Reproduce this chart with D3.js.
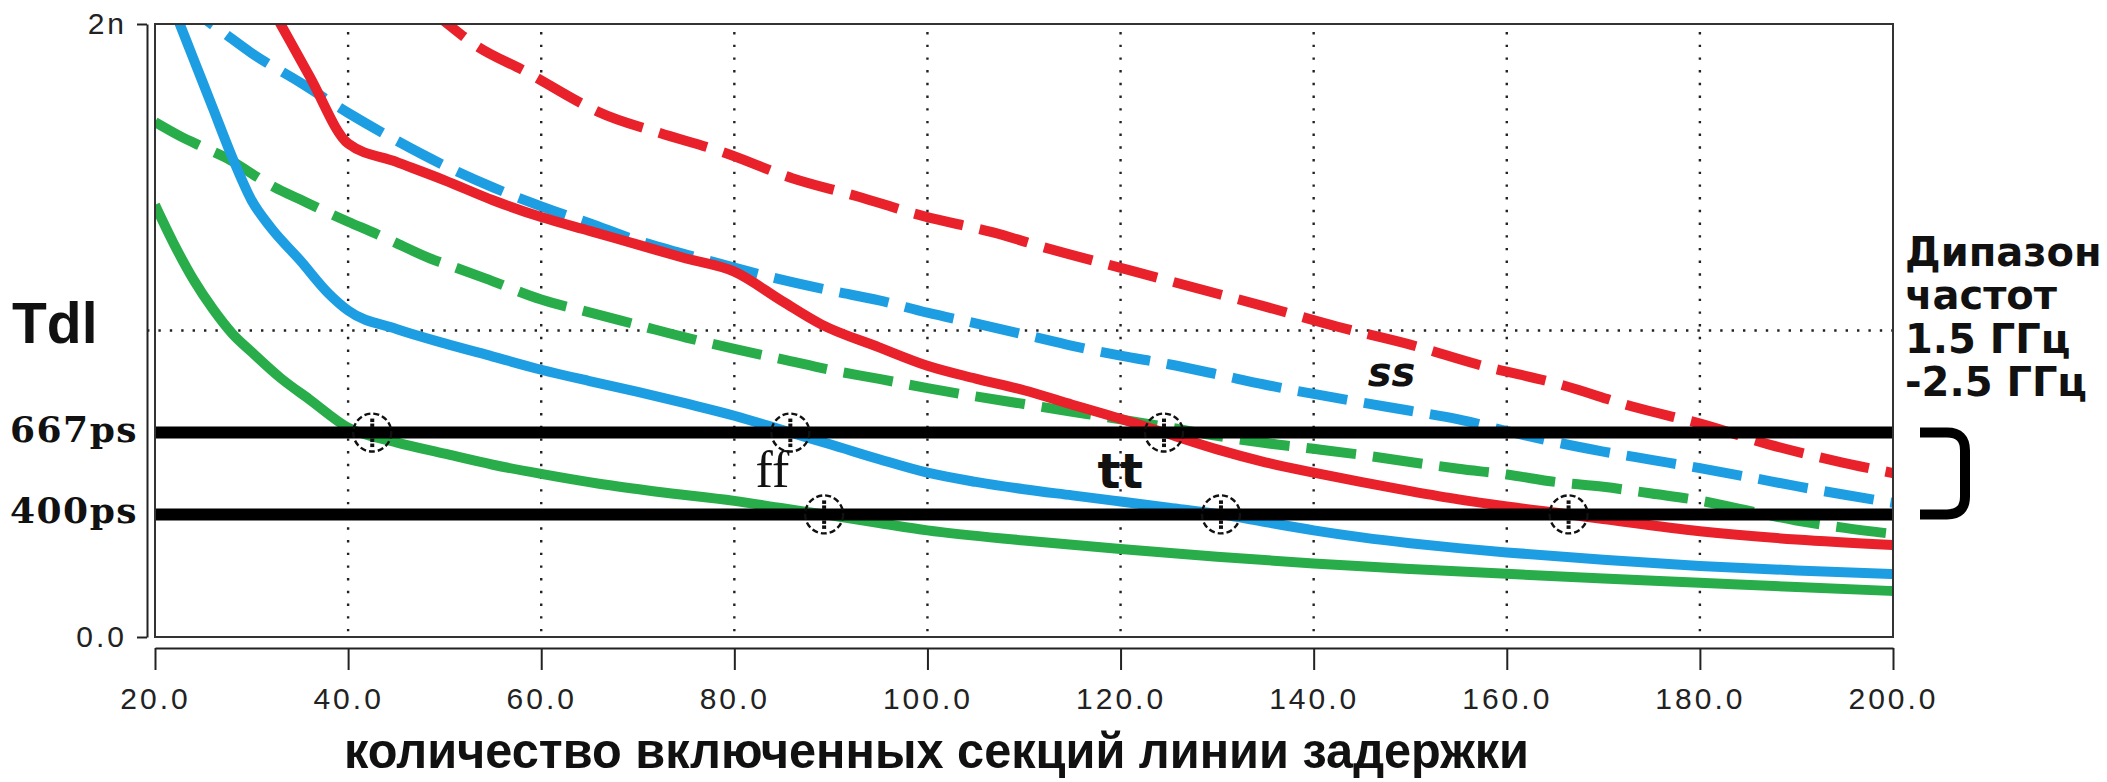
<!DOCTYPE html>
<html>
<head>
<meta charset="utf-8">
<script src="https://cdn.jsdelivr.net/npm/d3@7"></script>
<style>
  html, body { margin: 0; padding: 0; background: #ffffff; }
  svg { display: block; }
</style>
</head>
<body>
<svg id="chart" width="2107" height="782"></svg>
<script>
// Delay Tdl of the delay line versus the number of enabled sections.

// ---- axes ----
const xTicks = [20, 40, 60, 80, 100, 120, 140, 160, 180, 200];
const xTickLabels = ["20.0", "40.0", "60.0", "80.0", "100.0", "120.0", "140.0", "160.0", "180.0", "200.0"];
const yTicks = [0, 2000];
const yTickLabels = ["0.0", "2n"];
const gridX = [40, 60, 80, 100, 120, 140, 160, 180];
const gridY = [1000];

// ---- series: [sections, delay in ps] ----
const greenSolid = [[20,1410],[22,1280],[24,1165],[26,1070],[28,990],[30,930],[33,845],[36,775],[40,683],[45,635],[50,598],[55,562],[60,532],[66,500],[72,474],[80,444],[85,420],[89.3,400],[95,372],[100,348],[110,315],[120,287],[130,262],[140,240],[150,222],[160,206],[170,191],[180,177],[190,163],[200,150]];
const blueSolid = [[20,2200],[22,2045],[24,1885],[26,1725],[28,1565],[30,1425],[32,1335],[35,1230],[38,1120],[40,1065],[45,1005],[50,958],[55,915],[60,872],[65,835],[70,800],[75,762],[80,722],[85.8,667],[90,628],[95,580],[100,536],[105,506],[110,482],[115,462],[120,442],[125,422],[130.4,400],[135,375],[140,348],[145,325],[150,306],[155,290],[160,276],[170,252],[180,232],[190,217],[200,205]];
const redSolid = [[30,2170],[33,2000],[36,1830],[40,1610],[45,1550],[50,1490],[55,1425],[60,1370],[65,1325],[70,1280],[75,1235],[80,1192],[85,1095],[89,1020],[95,945],[100,885],[105,843],[110,805],[115,758],[120,712],[124.5,667],[130,612],[135,570],[140,536],[145,505],[150,476],[155,449],[160,426],[166.4,400],[170,385],[180,345],[190,318],[200,300]];
const greenDashed = [[20,1680],[22.6,1634],[25,1598],[27.8,1556],[30,1512],[32.4,1467],[35,1428],[37.4,1392],[40,1355],[43,1314],[45,1285],[48.5,1235],[50,1218],[54.2,1170],[60,1101],[65,1059],[70,1018],[75,977],[80,940],[85,906],[90,871],[95,842],[100,812],[105,785],[110,760],[115,735],[120,710],[125,684],[130,656],[135,633],[140,614],[145,594],[150,571],[155,549],[160,530],[165,506],[170,490],[175,468],[180,445],[185,412],[190,380],[195,356],[200,336]];
const blueDashed = [[22,2100],[25,2020],[27,1974],[30,1905],[35,1810],[40,1710],[45,1620],[50,1538],[55,1467],[60,1405],[65,1350],[70,1293],[75,1248],[80,1205],[85,1165],[90,1130],[95,1098],[100,1058],[105,1023],[110,987],[115,950],[120,918],[125,890],[130,857],[135,823],[140,793],[145,765],[150,738],[155,710],[160,672],[165,636],[170,605],[175,578],[180,551],[185,522],[190,492],[195,464],[200,438]];
const redDashed = [[48,2060],[50.6,1993],[53,1935],[58.5,1843],[64.3,1739],[66,1712],[72,1647],[78.8,1582],[86,1497],[92.7,1438],[99.6,1373],[106.8,1320],[112,1272],[121,1196],[128,1137],[135,1078],[142.4,1013],[150,954],[157,889],[165.5,824],[173,752],[180.4,693],[187.3,627],[194,575],[200,535]];

// ---- limits of the 1.5-2.5 GHz band and the crossing points ----
const limitLevels = [667, 400];
const limitLabels = ["667ps", "400ps"];
const crossingX = [42.5, 85.8, 124.5, 89.3, 130.4, 166.4];
const crossingY = [667, 667, 667, 400, 400, 400];

// ---- texts ----
const cornerNames = ["ff", "tt", "ss"];
const bandNote = ["Дипазон", "частот", "1.5 ГГц", "-2.5 ГГц"];
const xTitle = "количество включенных секций линии задержки";
const yTitle = "Tdl";

// ---- layout ----
const plot = { left: 155, right: 1893, top: 24, bottom: 637 };
const RED = "#e8212b", BLUE = "#1d9ee3", GREEN = "#28ad4a";

const x = d3.scaleLinear().domain([20, 200]).range([plot.left, plot.right]);
const y = d3.scaleLinear().domain([0, 2000]).range([plot.bottom, plot.top]);

const svg = d3.select("#chart");

svg.append("defs").append("clipPath").attr("id", "plotClip")
  .append("rect")
  .attr("x", plot.left).attr("y", plot.top)
  .attr("width", plot.right - plot.left).attr("height", plot.bottom - plot.top);

// dotted grid
const grid = svg.append("g").attr("stroke", "#222").attr("stroke-width", 2.4);
grid.selectAll("line.gx").data(gridX).join("line").attr("class", "gx")
  .attr("stroke-dasharray", "2.4 10.3")
  .attr("x1", d => x(d)).attr("x2", d => x(d))
  .attr("y1", plot.top + 8).attr("y2", plot.bottom);
grid.selectAll("line.gy").data(gridY).join("line").attr("class", "gy")
  .attr("stroke-dasharray", "2.4 9")
  .attr("x1", plot.left - 8).attr("x2", plot.right)
  .attr("y1", d => y(d)).attr("y2", d => y(d));

// curves
const line = d3.line().x(d => x(d[0])).y(d => y(d[1])).curve(d3.curveMonotoneX);
const series = [
  { data: redDashed, color: RED, dashed: true },
  { data: blueDashed, color: BLUE, dashed: true },
  { data: greenDashed, color: GREEN, dashed: true },
  { data: greenSolid, color: GREEN, dashed: false },
  { data: blueSolid, color: BLUE, dashed: false },
  { data: redSolid, color: RED, dashed: false }
];
svg.append("g").attr("clip-path", "url(#plotClip)")
  .selectAll("path").data(series).join("path")
  .attr("d", d => line(d.data))
  .attr("fill", "none")
  .attr("stroke", d => d.color)
  .attr("stroke-width", 10)
  .attr("stroke-linejoin", "round")
  .attr("stroke-dasharray", d => d.dashed ? "50 17" : null);

// band limits
svg.append("g").selectAll("line").data(limitLevels).join("line")
  .attr("x1", plot.left).attr("x2", plot.right)
  .attr("y1", d => y(d)).attr("y2", d => y(d))
  .attr("stroke", "#000").attr("stroke-width", 12);

svg.append("g").selectAll("text").data(limitLabels).join("text")
  .attr("x", 10).attr("y", (d, i) => y(limitLevels[i]) + 9)
  .attr("font-family", "'DejaVu Serif', serif").attr("font-weight", "bold")
  .attr("font-size", 36).attr("letter-spacing", 1.5).attr("fill", "#111")
  .text(d => d);

// crossing markers
const marks = svg.append("g").selectAll("g").data(crossingX).join("g")
  .attr("transform", (d, i) => `translate(${x(d)},${y(crossingY[i])})`);
marks.append("circle").attr("r", 19).attr("fill", "none")
  .attr("stroke", "#111").attr("stroke-width", 2.4).attr("stroke-dasharray", "6 3");
marks.selectAll("rect").data([-14, -9, 6, 11]).join("rect")
  .attr("x", -2).attr("y", d => d).attr("width", 4).attr("height", 3.5).attr("fill", "#111");

// plot frame
svg.append("rect")
  .attr("x", plot.left).attr("y", plot.top)
  .attr("width", plot.right - plot.left).attr("height", plot.bottom - plot.top)
  .attr("fill", "none").attr("stroke", "#333").attr("stroke-width", 2);

// axes
const tickFont = g => g.selectAll("text")
  .attr("font-family", "'Liberation Sans Narrow', 'Liberation Sans', Arial, sans-serif")
  .attr("font-size", 30).attr("letter-spacing", 3).attr("fill", "#222");

const yAxis = d3.axisLeft(y).tickValues(yTicks)
  .tickFormat((d, i) => yTickLabels[i]).tickSize(10).tickSizeOuter(0).tickPadding(10);
svg.append("g").attr("transform", "translate(147,0)").call(yAxis)
  .call(g => g.selectAll("path,line").attr("stroke", "#222").attr("stroke-width", 2))
  .call(tickFont);

const xAxis = d3.axisBottom(x).tickValues(xTicks)
  .tickFormat((d, i) => xTickLabels[i]).tickSize(22).tickSizeOuter(0).tickPadding(18);
svg.append("g").attr("transform", "translate(0,648)").call(xAxis)
  .call(g => g.selectAll("path,line").attr("stroke", "#222").attr("stroke-width", 2))
  .call(tickFont);

// axis titles
svg.append("text").attr("x", 344).attr("y", 768)
  .attr("font-family", "'Liberation Sans', Arial, sans-serif").attr("font-weight", "bold")
  .attr("font-size", 50).attr("textLength", 1185).attr("lengthAdjust", "spacingAndGlyphs")
  .attr("fill", "#111").text(xTitle);

svg.append("text").attr("x", 12).attr("y", 343)
  .attr("font-family", "'Liberation Sans', Arial, sans-serif").attr("font-weight", "bold")
  .attr("font-size", 57).attr("fill", "#111").text(yTitle);

// corner names
svg.append("text").attr("x", x(82.2)).attr("y", y(490))
  .attr("font-family", "'Liberation Serif', serif").attr("font-size", 52)
  .attr("fill", "#111").text(cornerNames[0]);
svg.append("text").attr("x", x(117.6)).attr("y", y(486))
  .attr("font-family", "'DejaVu Sans', sans-serif").attr("font-weight", "bold")
  .attr("font-size", 48).attr("fill", "#111").text(cornerNames[1]);
svg.append("text").attr("x", x(145.6)).attr("y", y(819))
  .attr("font-family", "'DejaVu Sans', sans-serif").attr("font-weight", "bold")
  .attr("font-style", "italic").attr("font-size", 40).attr("fill", "#111").text(cornerNames[2]);

// band note and bracket
svg.append("text").attr("x", 1905).attr("y", 266)
  .attr("font-family", "'DejaVu Sans', sans-serif").attr("font-weight", "bold")
  .attr("font-size", 40).attr("fill", "#111")
  .selectAll("tspan").data(bandNote).join("tspan")
  .attr("x", 1905).attr("dy", (d, i) => i === 0 ? 0 : 43.3)
  .text(d => d);

const bTop = y(limitLevels[0]), bBot = y(limitLevels[1]);
const bx0 = 1920, bx1 = 1965, rr = 18;
svg.append("path")
  .attr("d", `M${bx0},${bTop} H${bx1 - rr} Q${bx1},${bTop} ${bx1},${bTop + rr} V${bBot - rr} Q${bx1},${bBot} ${bx1 - rr},${bBot} H${bx0}`)
  .attr("fill", "none").attr("stroke", "#000").attr("stroke-width", 10);
</script>
</body>
</html>
